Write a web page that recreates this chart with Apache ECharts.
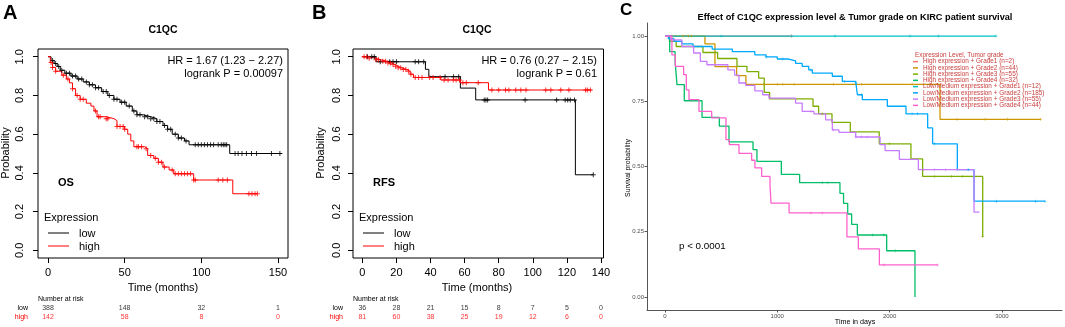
<!DOCTYPE html>
<html>
<head>
<meta charset="utf-8">
<script src="https://cdn.jsdelivr.net/npm/echarts@6/dist/echarts.min.js"></script>
<style>
  html, body { margin: 0; padding: 0; background: #fff; }
  #chart { width: 1065px; height: 327px; }
</style>
</head>
<body>
<div id="chart"></div>
<script>
// ---- panel A / B : KM curves, [months, survival] ----
const lowA = [[0,1.0],[2,0.98],[4,0.965],[6,0.95],[8,0.93],[11,0.915],[15,0.9],[19,0.885],[23,0.87],[27,0.855],[31,0.84],[35,0.82],[39,0.8],[43,0.78],[47,0.765],[51,0.745],[55,0.72],[58,0.7],[62,0.69],[67,0.68],[71,0.665],[75,0.645],[78,0.625],[81,0.6],[85,0.58],[89,0.565],[92,0.545],[118.5,0.5]];
const lowAEnd = 152.5;
const highA = [[0,1.0],[1.5,0.97],[3,0.945],[5,0.925],[9,0.905],[12,0.885],[14,0.865],[16,0.835],[18,0.8],[21,0.78],[25,0.76],[28,0.745],[30,0.72],[32,0.69],[38,0.68],[43,0.67],[45,0.64],[50,0.625],[52,0.6],[54,0.565],[56,0.535],[63,0.525],[65,0.49],[69,0.475],[72,0.455],[75,0.43],[79,0.415],[82,0.395],[95,0.363],[120.5,0.292]];
const highAEnd = 136.5;
const censorLowA = [3,5,7,9,12,14,16,18,20,22,25,27,29,31,33,36,38,40,43,45,48,50,53,56,58,60,63,65,67,69,71,73,76,78,80,83,85,87,90,96,98,100,102,104,106,108,111,113,114.3,115.4,116.5,122,124,126.5,129.4,132.7,136,145.7,151.2];
const censorHighA = [2,3,5,10,13,16,19,21,23,31,33,34,38,39,45,47,49,50,58,59,61,64,67,70,72,74,76,81,83,85,87,89,91,93,95,96,111,114,117,131,133,135,136.5];

const lowB = [[0,1.0],[8,0.974],[37,0.935],[39,0.897],[57.5,0.838],[66.5,0.777],[125,0.39]];
const lowBEnd = 135.5;
const highB = [[0,1.0],[4,0.992],[8,0.984],[11,0.977],[14,0.968],[17,0.96],[19,0.951],[21,0.943],[23,0.934],[26,0.925],[28,0.91],[30,0.893],[46,0.88],[57.5,0.866],[74,0.828]];
const highBEnd = 134.5;
const censorLowB = [3,5.5,7,10.5,16,18,20,31,33,36,48.5,53.5,56.5,71.5,72.5,73.5,95.5,114,119,120.5,122,124.5,135.5];
const censorHighB = [1,2.5,4,8,9.5,12,13.5,15,16.5,18,19.5,21,22.5,24,25.5,27,28.5,31,33,35,39.5,41.5,45.6,48,50.3,53.3,55,57,59,61,68,76,80,84,86,90,93,96,107.6,110.6,116.4,121.2,131,132,133.8];

// number at risk
const riskTimesA = [0, 50, 100, 150];
const riskLowA = [388, 148, 32, 1];
const riskHighA = [142, 58, 8, 0];
const riskTimesB = [0, 20, 40, 60, 80, 100, 120, 140];
const riskLowB = [36, 28, 21, 15, 8, 7, 5, 0];
const riskHighB = [81, 60, 38, 25, 19, 12, 6, 0];

// tick labels
const ticksA = [0, 50, 100, 150];
const ticksB = [0, 20, 40, 60, 80, 100, 120, 140];
const ticksProb = [0, 0.2, 0.4, 0.6, 0.8, 1.0];
const ticksDays = [0, 1000, 2000, 3000];
const ticksSurv = [0, 0.25, 0.5, 0.75, 1.0];

// ---- panel C : [days, survival] ----
const cNames = ['High expression + Grade1 (n=2)', 'High expression + Grade2 (n=44)', 'High expression + Grade3 (n=55)', 'High expression + Grade4 (n=32)', 'Low/Medium expression + Grade1 (n=12)', 'Low/Medium expression + Grade2 (n=185)', 'Low/Medium expression + Grade3 (n=55)', 'Low/Medium expression + Grade4 (n=44)'];
const cColors = ['#F8766D', '#CD9600', '#7CAE00', '#00BE67', '#00BFC4', '#00A9FF', '#C77CFF', '#FF61CC'];
const hiG1 = [[0,1.0]];
const hiG2 = [[0,1.0],[356,0.97],[445,0.883],[638,0.848],[721,0.815],[2449,0.681]];
const hiG3 = [[0,1.0],[40,0.98],[100,0.96],[338,0.937],[469,0.914],[641,0.884],[730,0.864],[834,0.839],[884,0.784],[932,0.759],[1318,0.731],[1368,0.702],[1487,0.669],[1650,0.633],[1908,0.587],[2190,0.529],[2294,0.462],[2829,0.232]];
const hiG4 = [[0,1.0],[42,0.94],[90,0.905],[107,0.814],[172,0.752],[330,0.688],[484,0.655],[570,0.594],[784,0.565],[819,0.52],[1036,0.47],[1199,0.438],[1558,0.397],[1590,0.359],[1627,0.318],[1662,0.278],[1713,0.2375],[1974,0.177],[2226,0.0]];
const loG1 = [[0,1.0]];
const loG2 = [[0,1.0],[30,0.99],[80,0.98],[150,0.97],[250,0.96],[420,0.95],[600,0.94],[800,0.928],[900,0.92],[1000,0.912],[1100,0.905],[1163,0.895],[1222,0.884],[1280,0.87],[1312,0.858],[1490,0.846],[1579,0.826],[1698,0.82],[1713,0.775],[1757,0.756],[1980,0.731],[2146,0.702],[2339,0.648],[2383,0.587],[2603,0.488],[2752,0.367]];
const loG3 = [[0,1.0],[50,0.985],[150,0.96],[255,0.935],[315,0.903],[374,0.89],[560,0.87],[620,0.85],[659,0.82],[718,0.811],[800,0.79],[870,0.775],[926,0.762],[1163,0.743],[1222,0.711],[1326,0.702],[1430,0.679],[1490,0.64],[1549,0.631],[1698,0.613],[1915,0.584],[1960,0.561],[2087,0.527],[2256,0.488],[2752,0.325]];
const loG4 = [[0,1.0],[62,0.928],[92,0.884],[166,0.852],[190,0.794],[214,0.756],[303,0.711],[416,0.686],[543,0.603],[573,0.584],[659,0.55],[772,0.524],[801,0.495],[861,0.462],[935,0.43],[944,0.36],[1105,0.322],[1620,0.23],[1722,0.184],[1909,0.1226]];
const cCurves = [hiG1, hiG2, hiG3, hiG4, loG1, loG2, loG3, loG4];
const cEnds = [1130, 3345, 2829, 2226, 2950, 3384, 2800, 2426];
const cCensor = [
  [1128],
  [162,207,237,880,1000,1050,1150,1500,1750,2200,2600,2850,3050,3345],
  [1400,2000,2400,2550,2650,2829],
  [1400,1450,1850,1950,2050],
  [500,1128,1514,2182,2434,2947],
  [900,1050,1300,1600,1700,1750,2200,2250,2400,2700,2950,3300,3384],
  [1300,1500,1700,1750,1800,2300,2400,2500,2600],
  [1300,1400,1950,2426]
];

const FONT = 'Liberation Sans, Arial, Helvetica, sans-serif';
const RED = '#ff0000';
const LEG = '#c8403f';
const PLUS = 'path://M4,0h2v10h-2zM0,4h10v2h-10z';

function kmData(curve, end) {
  const d = curve.slice();
  d.push([end, curve[curve.length - 1][1]]);
  return d;
}
function survAt(curve, t) {
  let s = curve[0][1];
  curve.forEach(p => { if (p[0] <= t) s = p[1]; });
  return s;
}
function kmLine(curve, end, color, xi, width) {
  return { type: 'line', xAxisIndex: xi, yAxisIndex: xi, step: 'end', symbol: 'none',
    data: kmData(curve, end), lineStyle: { color: color, width: width }, itemStyle: { color: color }, z: 3 };
}
function censor(curve, times, color, xi, size) {
  return { type: 'scatter', xAxisIndex: xi, yAxisIndex: xi, symbol: PLUS, symbolSize: size,
    data: times.map(t => [t, survAt(curve, t)]), itemStyle: { color: color }, z: 4, silent: true };
}
function riskRow(times, vals, row, color, xi) {
  return { type: 'scatter', xAxisIndex: xi, yAxisIndex: xi, symbolSize: 0.1,
    itemStyle: { color: 'rgba(0,0,0,0)' },
    data: times.map((t, i) => [t, row, vals[i]]),
    label: { show: true, position: 'inside', formatter: p => p.value[2], fontSize: 7, color: color, fontFamily: FONT } };
}
function rAxisX(grid, min, max, ticks) {
  return { gridIndex: grid, type: 'value', min: min, max: max, splitLine: { show: false },
    axisLine: { show: false, onZero: false },
    axisTick: { show: true, length: 5, customValues: ticks, lineStyle: { color: '#000' } },
    axisLabel: { customValues: ticks, fontSize: 11, color: '#000', margin: 9, fontFamily: FONT } };
}
function rAxisY(grid, margin) {
  return { gridIndex: grid, type: 'value', min: -0.04, max: 1.04, splitLine: { show: false },
    axisLine: { show: false, onZero: false },
    axisTick: { show: true, length: 5, customValues: ticksProb, lineStyle: { color: '#000' } },
    axisLabel: { customValues: ticksProb, rotate: 90, formatter: v => v.toFixed(1), fontSize: 11,
      color: '#000', margin: margin, fontFamily: FONT } };
}
function hiddenX(grid, min, max) {
  return { gridIndex: grid, type: 'value', min: min, max: max, show: false };
}
function riskY(grid) {
  return { gridIndex: grid, type: 'category', data: ['high', 'low'],
    axisLine: { show: false, onZero: false }, axisTick: { show: false },
    axisLabel: { interval: 0, hideOverlap: false, fontSize: 7, margin: 10, fontFamily: FONT,
      color: v => v === 'high' ? RED : '#000' } };
}

function txt(text, x, y, size, opts) {
  opts = opts || {};
  return { type: 'text', x: x, y: y, rotation: opts.rot || 0, silent: true,
    style: { text: text, fill: opts.color || '#000', font: (opts.bold ? 'bold ' : '') + size + 'px ' + FONT,
      align: opts.align || 'left', textAlign: opts.align || 'left',
      verticalAlign: 'middle', textVerticalAlign: 'middle' } };
}
function seg(x1, x2, y, color) {
  return { type: 'line', silent: true, shape: { x1: x1, y1: y, x2: x2, y2: y }, style: { stroke: color, lineWidth: 1 } };
}

const series = [
  kmLine(lowA, lowAEnd, '#000', 0, 1),
  kmLine(highA, highAEnd, RED, 0, 1),
  censor(lowA, censorLowA, '#000', 0, 5),
  censor(highA, censorHighA, RED, 0, 5),
  riskRow(riskTimesA, riskLowA, 'low', '#000', 1),
  riskRow(riskTimesA, riskHighA, 'high', RED, 1),
  kmLine(lowB, lowBEnd, '#000', 2, 1),
  kmLine(highB, highBEnd, RED, 2, 1),
  censor(lowB, censorLowB, '#000', 2, 5),
  censor(highB, censorHighB, RED, 2, 5),
  riskRow(riskTimesB, riskLowB, 'low', '#000', 3),
  riskRow(riskTimesB, riskHighB, 'high', RED, 3)
];
cCurves.forEach((c, i) => {
  const s = kmLine(c, cEnds[i], cColors[i], 4, 1.3);
  s.name = cNames[i];
  series.push(s);
});
cCurves.forEach((c, i) => {
  series.push(censor(c, cCensor[i], cColors[i], 4, 3));
});

const chart = echarts.init(document.getElementById('chart'));
chart.setOption({
  animation: false,
  backgroundColor: '#fff',
  grid: [
    { left: 38, top: 49, width: 250, height: 209, show: true, borderColor: '#000', borderWidth: 1 },
    { left: 38, top: 303.5, width: 250, height: 18 },
    { left: 353, top: 49, width: 250.5, height: 209, show: true, borderColor: '#000', borderWidth: 1 },
    { left: 353, top: 303.5, width: 250.5, height: 18 },
    { left: 647, top: 23, width: 415, height: 287 }
  ],
  xAxis: [
    rAxisX(0, -6.5, 156.5, ticksA),
    hiddenX(1, -6.5, 156.5),
    rAxisX(2, -5.5, 141.5, ticksB),
    hiddenX(3, -5.5, 141.5),
    { gridIndex: 4, type: 'value', min: -160, max: 3535, splitLine: { show: false },
      axisLine: { show: true, onZero: false, lineStyle: { color: '#555', width: 1 } },
      axisTick: { show: true, length: 2.5, customValues: ticksDays, lineStyle: { color: '#555' } },
      axisLabel: { customValues: ticksDays, formatter: v => String(v), fontSize: 6, color: '#4d4d4d',
        margin: 3, fontFamily: FONT } }
  ],
  yAxis: [
    rAxisY(0, 13),
    riskY(1),
    rAxisY(2, 11),
    riskY(3),
    { gridIndex: 4, type: 'value', min: -0.05, max: 1.05, splitLine: { show: false },
      axisLine: { show: true, onZero: false, lineStyle: { color: '#555', width: 1 } },
      axisTick: { show: true, length: 2.5, customValues: ticksSurv, lineStyle: { color: '#555' } },
      axisLabel: { customValues: ticksSurv, formatter: v => v.toFixed(2), fontSize: 6, color: '#4d4d4d',
        margin: 3, fontFamily: FONT } }
  ],
  legend: {
    data: cNames, orient: 'vertical', left: 913, top: 58.5, padding: 0, itemGap: 0,
    itemWidth: 5, itemHeight: 1.5, icon: 'rect', selectedMode: false,
    textStyle: { fontSize: 6.4, lineHeight: 6.25, color: LEG, fontFamily: FONT }
  },
  graphic: [
    txt('A', 3, 13, 20, { bold: true }),
    txt('B', 312, 13, 20, { bold: true }),
    txt('C', 620, 10, 17, { bold: true }),
    txt('C1QC', 163, 30, 10.5, { bold: true, align: 'center' }),
    txt('C1QC', 477, 30, 10.5, { bold: true, align: 'center' }),
    txt('HR = 1.67 (1.23 \u2212 2.27)', 283, 61, 11, { align: 'right' }),
    txt('logrank P = 0.00097', 283, 74, 11, { align: 'right' }),
    txt('HR = 0.76 (0.27 \u2212 2.15)', 597, 61, 11, { align: 'right' }),
    txt('logrank P = 0.61', 597, 74, 11, { align: 'right' }),
    txt('OS', 58, 183, 11, { bold: true }),
    txt('RFS', 373, 183, 11, { bold: true }),
    txt('Expression', 44, 218, 11),
    seg(48, 69, 233, '#000'), txt('low', 79, 234, 11),
    seg(48, 69, 246, RED), txt('high', 79, 247, 11),
    txt('Expression', 359, 218, 11),
    seg(363, 384, 233, '#000'), txt('low', 394, 234, 11),
    seg(363, 384, 246, RED), txt('high', 394, 247, 11),
    txt('Probability', 6, 153, 11, { align: 'center', rot: Math.PI / 2 }),
    txt('Probability', 321, 153, 11, { align: 'center', rot: Math.PI / 2 }),
    txt('Time (months)', 163, 288, 11, { align: 'center' }),
    txt('Time (months)', 477, 288, 11, { align: 'center' }),
    txt('Number at risk', 38, 299.5, 7),
    txt('Number at risk', 353, 299.5, 7),
    txt('Effect of C1QC expression level & Tumor grade on KIRC patient survival', 855, 17, 9.2, { bold: true, align: 'center' }),
    txt('Survival probability', 628, 168, 6.9, { align: 'center', rot: Math.PI / 2 }),
    txt('Time in days', 855, 322, 7.2, { align: 'center' }),
    txt('p < 0.0001', 679, 246, 9.8),
    txt('Expression Level, Tumor grade', 915, 55, 6.4, { color: LEG })
  ],
  series: series
});
</script>
</body>
</html>
